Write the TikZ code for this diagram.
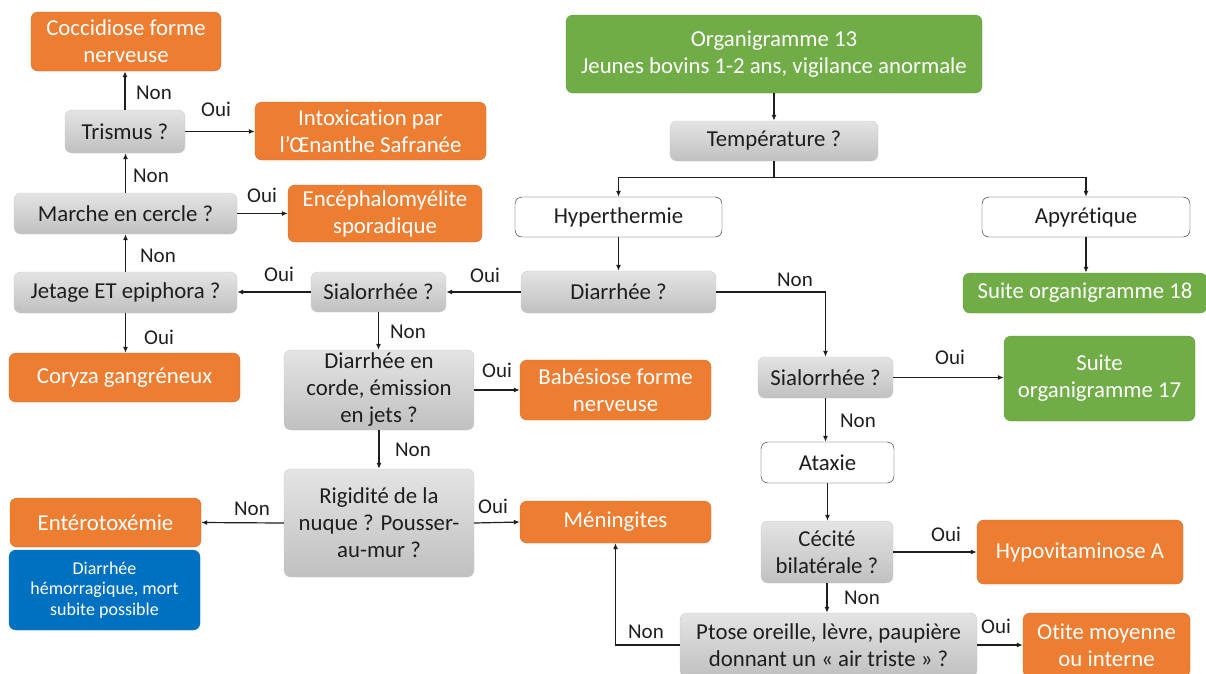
\documentclass[tikz,border=0pt]{standalone}
\usepackage{fontspec}
\setmainfont{Carlito}[Ligatures=NoCommon]
\usetikzlibrary{arrows.meta}
\definecolor{orng}{RGB}{237,125,49}
\definecolor{orngdk}{RGB}{214,108,38}
\definecolor{grn}{RGB}{112,173,71}
\definecolor{grndk}{RGB}{96,155,60}
\definecolor{blu}{RGB}{0,112,192}
\definecolor{txt}{RGB}{30,30,30}
\tikzset{
  box/.style={rounded corners=7pt, inner sep=0pt, align=center,
    font=\fontsize{22.8}{27}\selectfont},
  qbox/.style={box, draw={rgb,255:red,200;green,200;blue,200},
    top color={rgb,255:red,228;green,228;blue,228},
    bottom color={rgb,255:red,192;green,192;blue,192}, text=txt},
  obox/.style={box, fill=orng, draw=orngdk, text=white},
  gbox/.style={box, fill=grn, draw=grndk, text=white},
  wbox/.style={box, fill=white, draw=txt, text=txt},
  bbox/.style={box, fill=blu, draw=blu, text=white,
    font=\fontsize{18}{20.5}\selectfont},
  lbl/.style={inner sep=0pt, text=txt, font=\fontsize{21}{24}\selectfont},
  arr/.style={-{Latex[length=6pt,width=5pt]}, line width=1.2pt, draw=txt},
}
\newcommand{\bx}[6]{\node[#1, minimum width=#4pt, minimum height=#5pt] (#2) at (#3) {#6};}
\begin{document}
\begin{tikzpicture}[x=1pt,y=-1pt]
\useasboundingbox (0,0) rectangle (1206,673);

% left column
\bx{obox}{cocc}{126,41.5}{190}{59}{Coccidiose forme\\nerveuse}
\bx{qbox}{trismus}{125,131.5}{120}{43}{Trismus ?}
\bx{obox}{intox}{370.5,131}{231}{58}{Intoxication par\\l’Œnanthe Safranée}
\bx{qbox}{marche}{125.5,213.5}{223}{41}{Marche en cercle ?}
\bx{obox}{encep}{385,213.5}{194}{57}{Encéphalomyélite\\sporadique}
\bx{qbox}{jetage}{125.5,292.5}{223}{41}{Jetage ET epiphora ?}
\bx{qbox}{sialA}{378.5,292}{135}{40}{Sialorrhée ?}
\bx{obox}{coryza}{124.5,377.5}{231}{49}{Coryza gangréneux}
\bx{qbox}{corde}{379,390}{190}{80}{Diarrhée en\\corde, émission\\en jets ?}
\bx{obox}{babes}{615.5,390}{191}{60}{Babésiose forme\\nerveuse}
\bx{qbox}{rigid}{379,523}{190}{108}{Rigidité de la\\nuque ? Pousser-\\au-mur ?}
\bx{obox}{mening}{615.5,522}{191}{42}{Méningites}
\bx{obox}{entero}{105.5,522.5}{191}{49}{Entérotoxémie}
\bx{bbox}{hemo}{104.5,590}{191}{80}{Diarrhée\\hémorragique, mort\\subite possible}

% right column
\bx{gbox}{org}{774,54}{416}{78}{Organigramme 13\\Jeunes bovins 1-2 ans, vigilance anormale}
\bx{qbox}{temp}{774,141}{208}{40}{Température ?}
\bx{wbox}{hyper}{618.5,217}{207}{40}{Hyperthermie}
\bx{wbox}{apyr}{1086,217}{208}{40}{Apyrétique}
\bx{qbox}{diar}{618.5,292}{195}{42}{Diarrhée ?}
\bx{gbox}{suiteA}{1085,293}{244}{40}{Suite organigramme 18}
\bx{qbox}{sialB}{825.5,377.5}{135}{41}{Sialorrhée ?}
\bx{gbox}{suiteB}{1099.5,378.5}{191}{85}{Suite\\organigramme 17}
\bx{wbox}{ataxie}{827.5,462.5}{133}{41}{Ataxie}
\bx{qbox}{cecite}{827,552}{132}{62}{Cécité\\bilatérale ?}
\bx{obox}{hypo}{1080,552}{206}{64}{Hypovitaminose A}
\bx{qbox}{ptose}{828.5,645}{297}{64}{Ptose oreille, lèvre, paupière\\donnant un « air triste » ?}
\bx{obox}{otite}{1106.5,645}{167}{64}{Otite moyenne\\ou interne}

% connectors
\draw[arr] (org.south) -- (temp.north);
\draw[arr] (temp.south) -- ++(0,16) -| (hyper.north);
\draw[arr] (temp.south) -- ++(0,16) -| (apyr.north);
\draw[arr] (hyper.south) -- (diar.north);
\draw[arr] (apyr.south) -- (apyr.south |- suiteA.north);
\draw[arr] (diar.west) -- (sialA.east);
\draw[arr] (diar.east) -| (sialB.north);
\draw[arr] (sialB.east) -- (sialB.east -| suiteB.west);
\draw[arr] (sialB.south) -- (sialB.south |- ataxie.north);
\draw[arr] (ataxie.south) -- (ataxie.south |- cecite.north);
\draw[arr] (cecite.east) -- (hypo.west);
\draw[arr] (cecite.south) -- (cecite.south |- ptose.north);
\draw[arr] (ptose.east) -- (otite.west);
\draw[arr] (ptose.west) -| (mening.south);
\draw[arr] (sialA.west) -- (sialA.west -| jetage.east);
\draw[arr] (sialA.south) -- (sialA.south |- corde.north);
\draw[arr] (corde.east) -- (corde.east -| babes.west);
\draw[arr] (corde.south) -- (rigid.north);
\draw[arr] (rigid.east) -- (mening.west);
\draw[arr] (rigid.west) -- (entero.east);
\draw[arr] (jetage.south) -- (jetage.south |- coryza.north);
\draw[arr] (jetage.north) -- (jetage.north |- marche.south);
\draw[arr] (marche.east) -- (marche.east -| encep.west);
\draw[arr] (marche.north) -- (marche.north |- trismus.south);
\draw[arr] (trismus.east) -- (trismus.east -| intox.west);
\draw[arr] (trismus.north) -- (trismus.north |- cocc.south);

% answer labels
\node[lbl] (l1) at (485,275) {Oui};
\node[lbl] (l2) at (795,280) {Non};
\node[lbl] (l3) at (950,357) {Oui};
\node[lbl] (l4) at (858,421) {Non};
\node[lbl] (l5) at (946,534) {Oui};
\node[lbl] (l6) at (862,598) {Non};
\node[lbl] (l7) at (996,626) {Oui};
\node[lbl] (l8) at (646,632) {Non};
\node[lbl] (l9) at (279,274) {Oui};
\node[lbl] (l10) at (408,332) {Non};
\node[lbl] (l11) at (497,370) {Oui};
\node[lbl] (l12) at (413,450) {Non};
\node[lbl] (l13) at (493,506) {Oui};
\node[lbl] (l14) at (252,509) {Non};
\node[lbl] (l15) at (159,337) {Oui};
\node[lbl] (l16) at (158,256) {Non};
\node[lbl] (l17) at (262,195) {Oui};
\node[lbl] (l18) at (151,176) {Non};
\node[lbl] (l19) at (216,109) {Oui};
\node[lbl] (l20) at (154,93) {Non};
\end{tikzpicture}
\end{document}
